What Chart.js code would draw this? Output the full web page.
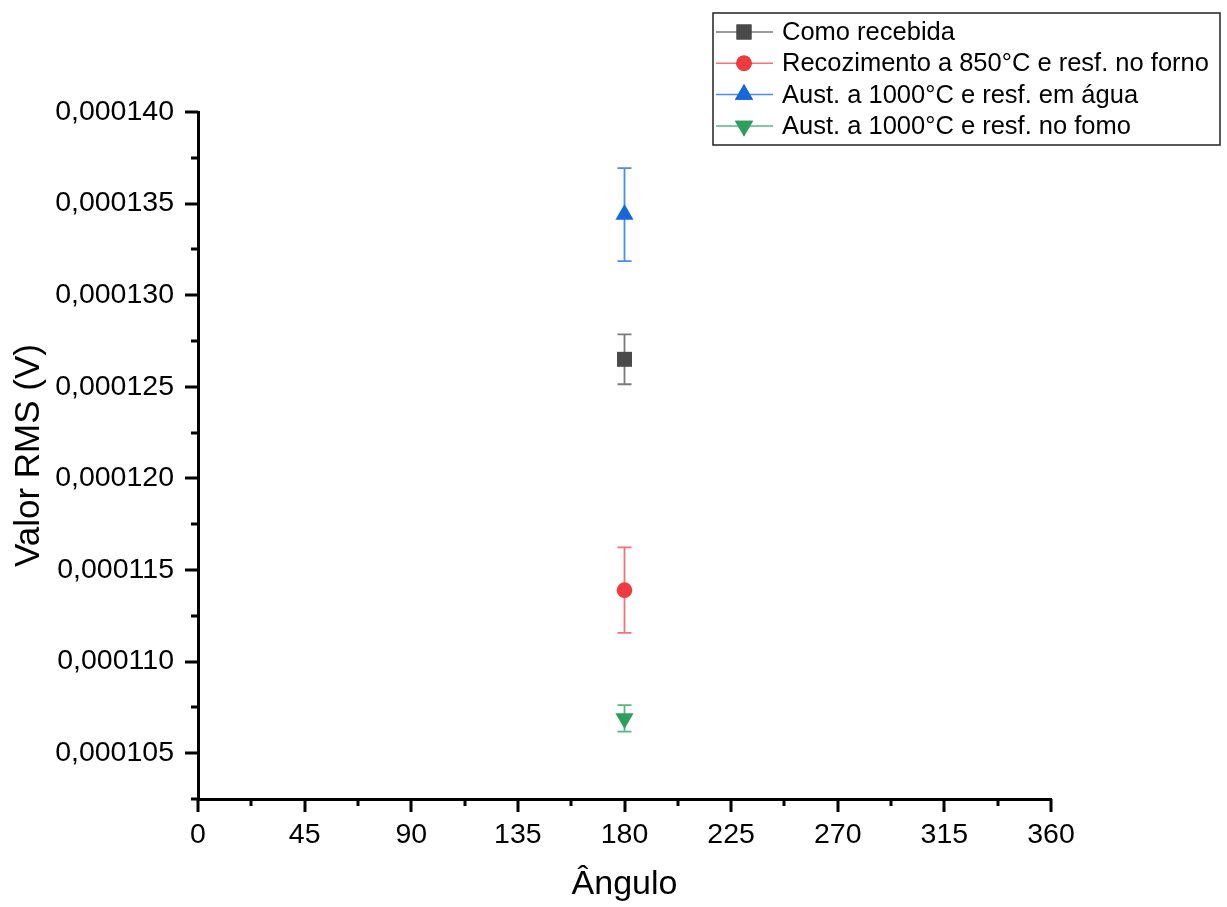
<!DOCTYPE html>
<html>
<head>
<meta charset="utf-8">
<title>Valor RMS x Ângulo</title>
<script src="https://cdn.jsdelivr.net/npm/chart.js@4.4.1/dist/chart.umd.min.js"></script>
<style>
  html, body { margin: 0; padding: 0; background: #fff; }
  canvas { display: block; }
</style>
</head>
<body>
<canvas id="chart" width="1227" height="907"></canvas>
<script>
// medições no ângulo de 180° (uma amostra por condição)
const seriesLabels = [
  'Como recebida',
  'Recozimento a 850°C e resf. no forno',
  'Aust. a 1000°C e resf. em água',
  'Aust. a 1000°C e resf. no fomo'
];
const angles = [180, 180, 180, 180];
const rmsValues = [0.0001265, 0.0001139, 0.0001344, 0.0001069];
const rmsErrors = [0.00000136, 0.00000233, 0.00000254, 0.00000072];

const xTickValues = [0, 22.5, 45, 67.5, 90, 112.5, 135, 157.5, 180, 202.5, 225, 247.5, 270, 292.5, 315, 337.5, 360];
const yTickValues = [0.0001025, 0.000105, 0.0001075, 0.00011, 0.0001125, 0.000115, 0.0001175, 0.00012,
  0.0001225, 0.000125, 0.0001275, 0.00013, 0.0001325, 0.000135, 0.0001375, 0.00014];

const markerStyles = ['rect', 'circle', 'triangle', 'triangle'];
const markerRotation = [0, 0, 0, 180];
const markerRadius = [10.6, 7.8, 10.5, 10.5];
const markerColors = ['#4a4a4a', '#ef3b3f', '#1767dc', '#2e9e5f'];
const barColors = ['#7a7a7a', '#f27378', '#4a8df0', '#55b883'];

const FONT = '"Liberation Sans", Arial, sans-serif';

const isMajorX = (v) => Math.abs(v % 45) < 1e-9;
const isMajorY = (v) => Math.round(v * 1e7) % 50 === 0;
const fmtY = (v) => v.toFixed(6).replace('.', ',');

// barras de erro verticais com "chapéu"
const errorBars = {
  id: 'errorBars',
  beforeDatasetsDraw(chart) {
    const { ctx, scales: { x, y } } = chart;
    ctx.save();
    ctx.lineWidth = 1.8;
    chart.data.datasets.forEach((ds, i) => {
      ds.data.forEach((p) => {
        const px = x.getPixelForValue(p.x);
        const top = y.getPixelForValue(p.y + p.err);
        const bot = y.getPixelForValue(p.y - p.err);
        ctx.strokeStyle = barColors[i];
        ctx.beginPath();
        ctx.moveTo(px, top); ctx.lineTo(px, bot);
        ctx.moveTo(px - 7, top); ctx.lineTo(px + 7, top);
        ctx.moveTo(px - 7, bot); ctx.lineTo(px + 7, bot);
        ctx.stroke();
      });
    });
    ctx.restore();
  }
};

// marcas principais e secundárias para fora dos eixos
const axisTicks = {
  id: 'axisTicks',
  afterDraw(chart) {
    const { ctx, chartArea, scales: { x, y } } = chart;
    ctx.save();
    ctx.strokeStyle = '#000';
    ctx.lineWidth = 3;
    ctx.beginPath();
    x.ticks.forEach((t) => {
      const px = Math.round(x.getPixelForValue(t.value));
      const len = isMajorX(t.value) ? 13 : 7;
      ctx.moveTo(px, chartArea.bottom);
      ctx.lineTo(px, chartArea.bottom + len);
    });
    y.ticks.forEach((t) => {
      const py = Math.round(y.getPixelForValue(t.value));
      const len = isMajorY(t.value) ? 13 : 7;
      ctx.moveTo(chartArea.left, py);
      ctx.lineTo(chartArea.left - len, py);
    });
    ctx.stroke();
    ctx.restore();
  }
};

// legenda em caixa no canto superior direito
const boxLegend = {
  id: 'boxLegend',
  afterDraw(chart) {
    const ctx = chart.ctx;
    const left = 713, top = 13, right = 1220, bottom = 145;
    ctx.save();
    ctx.fillStyle = '#fff';
    ctx.fillRect(left, top, right - left, bottom - top);
    ctx.strokeStyle = '#222';
    ctx.lineWidth = 1.5;
    ctx.strokeRect(left, top, right - left, bottom - top);
    ctx.font = '25.5px ' + FONT;
    ctx.textBaseline = 'middle';
    chart.data.datasets.forEach((ds, i) => {
      const cy = 32 + i * 31.3;
      ctx.strokeStyle = barColors[i];
      ctx.lineWidth = 1.5;
      ctx.beginPath();
      ctx.moveTo(716, cy); ctx.lineTo(773, cy);
      ctx.stroke();
      ctx.fillStyle = markerColors[i];
      Chart.helpers.drawPoint(ctx, {
        pointStyle: markerStyles[i],
        radius: markerRadius[i],
        rotation: markerRotation[i],
        borderWidth: 0
      }, 744, cy);
      ctx.fill();
      ctx.fillStyle = '#000';
      ctx.fillText(ds.label, 782, cy + 1);
    });
    ctx.restore();
  }
};

const datasets = seriesLabels.map((label, i) => ({
  label,
  data: [{ x: angles[i], y: rmsValues[i], err: rmsErrors[i] }],
  showLine: false,
  pointStyle: markerStyles[i],
  rotation: markerRotation[i],
  pointRadius: markerRadius[i],
  pointHoverRadius: markerRadius[i],
  pointBackgroundColor: markerColors[i],
  pointBorderColor: markerColors[i],
  pointBorderWidth: 0
}));

new Chart(document.getElementById('chart'), {
  type: 'scatter',
  data: { datasets },
  plugins: [errorBars, axisTicks, boxLegend],
  options: {
    responsive: false,
    animation: false,
    devicePixelRatio: 1,
    layout: { padding: { top: 112, right: 176, bottom: 0, left: 0 } },
    plugins: { legend: { display: false }, tooltip: { enabled: false } },
    scales: {
      x: {
        type: 'linear', min: 0, max: 360,
        afterBuildTicks: (s) => { s.ticks = xTickValues.map((v) => ({ value: v })); },
        afterFit: (s) => { s.height = 108; },
        grid: { display: true, drawOnChartArea: false, drawTicks: true, tickLength: 12, tickColor: 'transparent' },
        border: { display: true, color: '#000', width: 3 },
        ticks: {
          autoSkip: false, maxRotation: 0, padding: 7, color: '#000',
          font: { family: FONT, size: 28.5 },
          callback: (v) => isMajorX(v) ? String(v) : ''
        },
        title: {
          display: true, text: 'Ângulo', color: '#000',
          font: { family: FONT, size: 34 }, padding: { top: 0, bottom: 2 }
        }
      },
      y: {
        type: 'linear', min: 0.0001025, max: 0.00014,
        afterBuildTicks: (s) => { s.ticks = yTickValues.map((v) => ({ value: v })); },
        afterFit: (s) => { s.width = 198; },
        grid: { display: true, drawOnChartArea: false, drawTicks: true, tickLength: 12, tickColor: 'transparent' },
        border: { display: true, color: '#000', width: 3 },
        ticks: {
          autoSkip: false, padding: 12, color: '#000',
          font: { family: FONT, size: 28.5 },
          callback: (v) => isMajorY(v) ? fmtY(v) : ''
        },
        title: {
          display: true, text: 'Valor RMS (V)', color: '#000',
          font: { family: FONT, size: 35 }, padding: { top: 8, bottom: 0 }
        }
      }
    }
  }
});
</script>
</body>
</html>
